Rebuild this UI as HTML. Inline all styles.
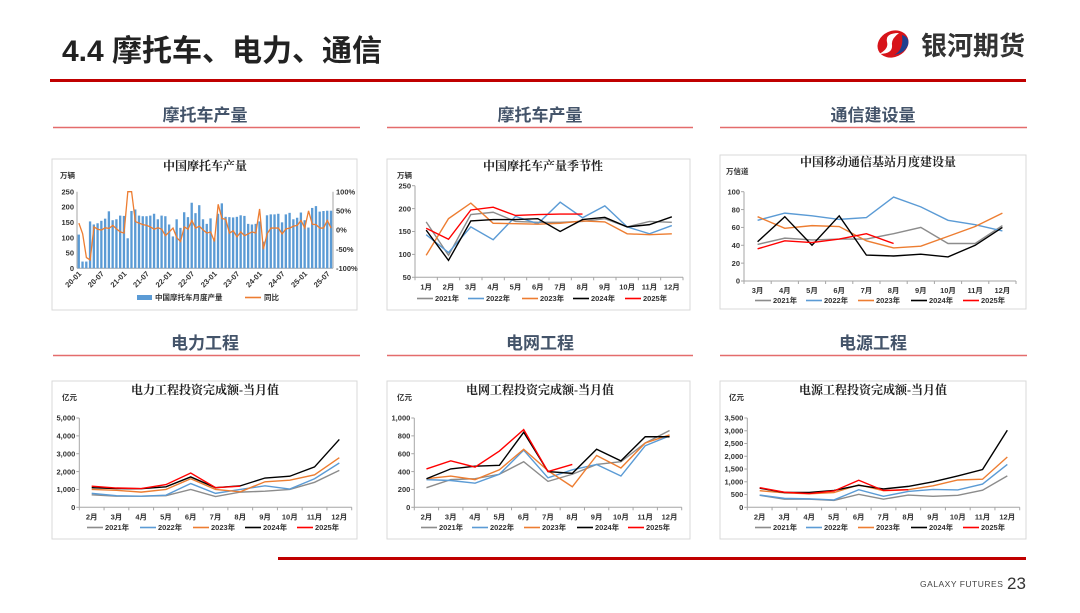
<!DOCTYPE html>
<html><head><meta charset="utf-8"><style>
body{margin:0;width:1080px;height:608px;background:#fff;overflow:hidden;font-family:"Liberation Sans","Noto Sans CJK SC",sans-serif}
svg text{font-family:"Liberation Sans","Noto Sans CJK SC",sans-serif}
.ct{font-family:"Liberation Serif","Noto Serif CJK SC",serif;font-weight:bold;font-size:12px;fill:#222}
.tk{font-size:7.5px;font-weight:bold;fill:#333}
.sec{font-size:17px;font-weight:bold;fill:#44546a}
</style></head><body>
<svg id="s" width="1080" height="608" xmlns="http://www.w3.org/2000/svg">
<text x="62" y="61" font-size="30" font-weight="bold" fill="#222">4.4  摩托车、电力、通信</text>
<g>
<ellipse cx="893" cy="44" rx="16" ry="13" fill="#d7141a" transform="rotate(-25 893 44)"/>
<path d="M899 33 q-14 0 -12 9 q2 7 -8 12 q14 0 13 -9 q-1 -6 7 -12z" fill="#fff"/>
<path d="M902 35 q8 2 6 10 q-3 8 -14 10 q10 -5 8 -20z" fill="#1f3f8f"/>
<text x="921" y="55" font-size="26" font-weight="bold" fill="#333">银河期货</text>
</g>
<rect x="50" y="79" width="976" height="3" fill="#c00000"/>
<text x="205" y="121" text-anchor="middle" class="sec">摩托车产量</text>
<text x="540" y="121" text-anchor="middle" class="sec">摩托车产量</text>
<text x="873" y="121" text-anchor="middle" class="sec">通信建设量</text>
<text x="205" y="349" text-anchor="middle" class="sec">电力工程</text>
<text x="540" y="349" text-anchor="middle" class="sec">电网工程</text>
<text x="873" y="349" text-anchor="middle" class="sec">电源工程</text>
<g stroke="#e46c6c" stroke-width="1.5">
<line x1="53" y1="127.5" x2="360" y2="127.5"/><line x1="387" y1="127.5" x2="693" y2="127.5"/><line x1="720" y1="127.5" x2="1027" y2="127.5"/>
<line x1="53" y1="355.5" x2="360" y2="355.5"/><line x1="387" y1="355.5" x2="693" y2="355.5"/><line x1="720" y1="355.5" x2="1027" y2="355.5"/>
</g>
<g fill="none" stroke="#d9d9d9" stroke-width="1">
<rect x="52" y="159" width="305" height="151"/>
<rect x="387" y="159" width="303" height="151"/>
<rect x="720" y="155" width="306" height="154"/>
<rect x="52" y="381" width="305" height="158"/>
<rect x="387" y="381" width="303" height="158"/>
<rect x="720" y="381" width="306" height="158"/>
</g>
<rect x="278" y="557" width="748" height="3" fill="#c00000"/>
<text x="920" y="587" font-size="8.5" fill="#444" letter-spacing="0.5">GALAXY FUTURES</text>
<text x="1007" y="589" font-size="17" fill="#333">23</text>
<g id="charts"></g>
</svg>
<script>
// ---- chart data ----
const c1Labels = ["20-01","20-07","21-01","21-07","22-01","22-07","23-01","23-07","24-01","24-07","25-01","25-07"];
const c1Bars = [110,22,22,153,143,147,155,162,186,157,160,172,
 171,98,187,192,172,170,170,172,178,160,172,170,
 143,104,160,132,183,167,214,180,206,160,145,163,
 98,178,212,168,167,166,168,173,171,145,143,145,
 153,87,173,176,176,178,150,176,181,160,165,182,
 157,133,197,203,185,187,188,188];
const c1Yoy = [18,-10,-72,-78,8,2,0,6,4,12,3,-5,
 -8,120,300,22,18,14,12,8,2,6,2,-15,
 -5,5,-20,-30,8,2,25,5,10,0,-8,-5,
 -30,67,30,28,-8,-2,-18,-5,-15,-10,-5,-8,
 55,-50,-10,5,5,5,-10,3,5,10,12,25,
 5,50,15,14,5,5,25,5];
const years = ["2021年","2022年","2023年","2024年","2025年"];
const colors = ["#8c8c8c","#5b9bd5","#ed7d31","#000000","#ff0000"];
const c2Cats = ["1月","2月","3月","4月","5月","6月","7月","8月","9月","10月","11月","12月"];
const c2S2021 = [171,98,187,192,172,170,170,172,178,160,172,170];
const c2S2022 = [143,104,160,132,183,167,214,180,206,160,145,163];
const c2S2023 = [98,178,212,168,167,166,168,173,171,145,143,145];
const c2S2024 = [153,87,173,176,176,178,150,176,181,160,165,182];
const c2S2025 = [157,133,197,203,185,187,188,188];
const c3Cats = ["3月","4月","5月","6月","7月","8月","9月","10月","11月","12月"];
const c3S2021 = [41,48,46,47,47,53,60,42,42,62];
const c3S2022 = [68,76,73,69,71,94,83,68,63,56];
const c3S2023 = [72,59,62,61,45,37,39,50,61,76];
const c3S2024 = [44,72,40,73,29,28,30,27,40,60];
const c3S2025 = [36,45,43,47,53,42];
const c4Cats = ["2月","3月","4月","5月","6月","7月","8月","9月","10月","11月","12月"];
const c4S2021 = [700,620,620,650,1000,600,850,900,1000,1400,2070];
const c4S2022 = [780,650,620,680,1330,780,1000,1200,1020,1600,2480];
const c4S2023 = [1000,950,850,1000,1600,1000,870,1430,1520,1820,2780];
const c4S2024 = [1100,1050,1040,1150,1700,1100,1200,1640,1740,2260,3800];
const c4S2025 = [1180,1080,1050,1270,1920,1100,1180];
const c5S2021 = [220,310,320,370,510,290,370,480,510,720,860];
const c5S2022 = [310,300,270,370,640,330,420,480,350,690,800];
const c5S2023 = [320,350,310,420,650,410,230,580,440,720,810];
const c5S2024 = [320,430,460,470,840,400,380,650,520,790,790];
const c5S2025 = [430,520,450,630,870,400,480];
const c6S2021 = [470,320,320,270,510,320,480,430,470,670,1230];
const c6S2022 = [480,350,330,290,690,430,620,700,680,910,1680];
const c6S2023 = [650,570,530,580,880,650,690,840,1070,1100,1970];
const c6S2024 = [750,580,580,660,860,720,820,1000,1230,1480,3020];
const c6S2025 = [770,590,540,640,1060,660,690];

const NS="http://www.w3.org/2000/svg";
const root=document.getElementById('charts');
function mk(tag,attrs,parent){const e=document.createElementNS(NS,tag);for(const k in attrs)e.setAttribute(k,attrs[k]);(parent||root).appendChild(e);return e;}
function txt(x,y,s,cls,anchor,parent){const t=mk('text',{x:x,y:y,class:cls,'text-anchor':anchor||'start'},parent);t.textContent=s;return t;}
function fmt(v,comma){return comma&&v>=1000?(Math.floor(v/1000)+','+String(v%1000).padStart(3,'0')):String(v);}

function lineChart(c){
  const g=mk('g',{});
  
  
  const t=txt(c.tx,c.ty,c.title,'ct','middle',g);
  
  
  const u=txt(c.ux,c.uy,c.unit,'tk','start',g);
  
  
  const n=c.cats.length, w=(c.x1-c.x0)/n;
  const X=i=>c.x0+w*(i+0.5);
  const Y=v=>c.yb-(v-c.ymin)/(c.ymax-c.ymin)*(c.yb-c.yt);
  mk('line',{x1:c.x0,y1:c.yt,x2:c.x0,y2:c.yb,stroke:'#a6a6a6'},g);
  mk('line',{x1:c.x0,y1:c.yb,x2:c.x1,y2:c.yb,stroke:'#a6a6a6'},g);
  for(let v=c.ymin;v<=c.ymax+1e-9;v+=c.step){
    const l=txt(c.x0-4,Y(v)+2.7,fmt(v,c.comma),'tk','end',g);
    
    
    mk('line',{x1:c.x0-3,y1:Y(v),x2:c.x0,y2:Y(v),stroke:'#a6a6a6'},g);
  }
  for(let i=0;i<=n;i++) mk('line',{x1:c.x0+w*i,y1:c.yb,x2:c.x0+w*i,y2:c.yb+3,stroke:'#a6a6a6'},g);
  c.cats.forEach((s,i)=>{
    const l=txt(X(i),c.yb+12,s,'tk','middle',g);
    
    
  });
  c.series.forEach((arr,k)=>{
    const p=mk('polyline',{points:arr.map((v,i)=>X(i)+','+Y(v)).join(' '),fill:'none',stroke:colors[k],'stroke-width':1.4},g);
    
    
  });
  c.legX.forEach((lx,k)=>{
    const lg=mk('g',{},g);
    
    
    mk('line',{x1:lx,y1:c.legY-2.5,x2:lx+16,y2:c.legY-2.5,stroke:colors[k],'stroke-width':1.6},lg);
    txt(lx+18,c.legY,years[k],'tk','start',lg);
  });
}

// chart 1: bars + yoy
(function(){
  const g=mk('g',{});
  
  
  const t=txt(205,170,'中国摩托车产量','ct','middle',g);
  
  
  const u=txt(60,178,'万辆','tk','start',g);
  
  
  const x0=77,x1=333,yt=191.7,yb=268.3,n=c1Bars.length,w=(x1-x0)/n;
  const Y=v=>yb-v/250*(yb-yt);
  const Y2=v=>yb-(Math.max(-100,Math.min(100,v))+100)/200*(yb-yt);
  mk('line',{x1:x0,y1:yt,x2:x0,y2:yb,stroke:'#a6a6a6'},g);
  mk('line',{x1:x1,y1:yt,x2:x1,y2:yb,stroke:'#a6a6a6'},g);
  mk('line',{x1:x0,y1:yb,x2:x1,y2:yb,stroke:'#a6a6a6'},g);
  for(let v=0;v<=250;v+=50){const l=txt(x0-3,Y(v)+2.7,String(v),'tk','end',g);
    
    }
  for(let v=-100;v<=100;v+=50){const l=txt(x1+3,Y2(v)+2.7,v+'%','tk','start',g);
    
    }
  c1Bars.forEach((v,i)=>{const r=mk('rect',{x:x0+w*i+0.6,y:Y(v),width:w*0.62,height:yb-Y(v),fill:'#5b9bd5'},g);
    
    });
  const p=mk('polyline',{points:c1Yoy.map((v,i)=>(x0+w*(i+0.5))+','+Y2(v)).join(' '),fill:'none',stroke:'#ed7d31','stroke-width':1.3},g);
  
  
  c1Labels.forEach((s,j)=>{const x=x0+w*(j*6+0.5);
    const l=txt(x+3,yb+6,s,'tk','end',g);
    l.setAttribute('transform','rotate(-45 '+(x+3)+' '+(yb+6)+')');
    
    });
  const l1=mk('g',{},g);
  
  
  mk('rect',{x:137,y:295,width:15,height:5,fill:'#5b9bd5'},l1);
  txt(155,300,'中国摩托车月度产量','tk','start',l1);
  const l2=mk('g',{},g);
  
  
  mk('line',{x1:245,y1:297.5,x2:261,y2:297.5,stroke:'#ed7d31','stroke-width':1.6},l2);
  txt(264,300,'同比','tk','start',l2);
})();

lineChart({name:'chart-moto-seasonal',title:'中国摩托车产量季节性',tx:543,ty:170,unit:'万辆',ux:397,uy:178,
 cats:c2Cats,x0:415,x1:683,yt:185.7,yb:277.3,ymin:50,ymax:250,step:50,
 series:[c2S2021,c2S2022,c2S2023,c2S2024,c2S2025],legX:[417,468,522,573,625],legY:301});
lineChart({name:'chart-telecom-stations',title:'中国移动通信基站月度建设量',tx:878,ty:166,unit:'万信道',ux:726,uy:174,
 cats:c3Cats,x0:744,x1:1016,yt:191.7,yb:281,ymin:0,ymax:100,step:20,
 series:[c3S2021,c3S2022,c3S2023,c3S2024,c3S2025],legX:[755,806,858,911,963],legY:303});
lineChart({name:'chart-power-investment',title:'电力工程投资完成额-当月值',tx:205,ty:394,unit:'亿元',ux:62,uy:400,comma:true,
 cats:c4Cats,x0:79.3,x1:351.7,yt:418,yb:507.3,ymin:0,ymax:5000,step:1000,
 series:[c4S2021,c4S2022,c4S2023,c4S2024,c4S2025],legX:[87,140,193,245,297],legY:530});
lineChart({name:'chart-grid-investment',title:'电网工程投资完成额-当月值',tx:540,ty:394,unit:'亿元',ux:397,uy:400,comma:true,
 cats:c4Cats,x0:414.3,x1:681.7,yt:418,yb:507.3,ymin:0,ymax:1000,step:200,
 series:[c5S2021,c5S2022,c5S2023,c5S2024,c5S2025],legX:[421,472,524,577,628],legY:530});
lineChart({name:'chart-source-investment',title:'电源工程投资完成额-当月值',tx:873,ty:394,unit:'亿元',ux:729,uy:400,comma:true,
 cats:c4Cats,x0:747.3,x1:1019.7,yt:418,yb:507.3,ymin:0,ymax:3500,step:500,
 series:[c6S2021,c6S2022,c6S2023,c6S2024,c6S2025],legX:[755,806,858,911,963],legY:530});
</script>
</body></html>
